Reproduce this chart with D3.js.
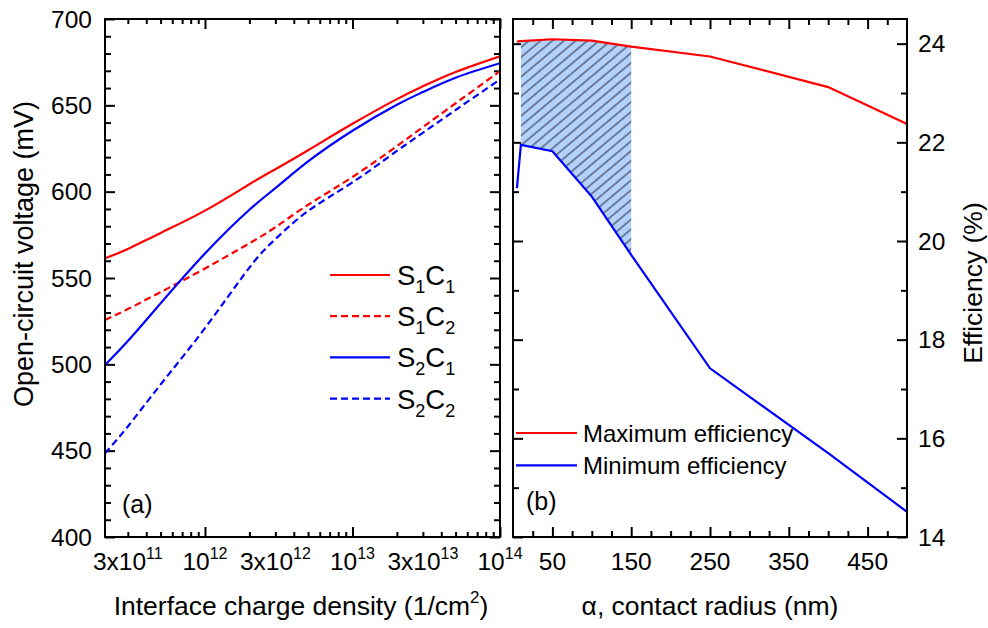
<!DOCTYPE html>
<html>
<head>
<meta charset="utf-8">
<script src="https://cdn.jsdelivr.net/npm/d3@7"></script>
<style>
  body { margin: 0; background: #fff; }
  svg text { font-family: "Liberation Sans", Arial, sans-serif; fill: #000; }
</style>
</head>
<body>
<div id="container"></div>
<script>
// panel (a): Voc vs interface charge density
const densities = [2.1e11, 3e11, 5e11, 1e12, 2e12, 3e12, 5e12, 1e13, 2e13, 3e13, 5e13, 1e14];
const vocS1C1 = [561.4, 566.8, 576.1, 589.0, 604.3, 613.0, 624.0, 639.3, 653.6, 661.0, 669.3, 678.4];
const vocS1C2 = [525.7, 532.0, 541.8, 555.5, 570.1, 579.4, 592.4, 608.5, 626.4, 637.4, 651.2, 669.8];
const vocS2C1 = [499.6, 513.5, 535.3, 564.2, 589.5, 602.0, 617.5, 635.3, 650.3, 657.7, 666.0, 674.4];
const vocS2C2 = [448.5, 464.0, 488.3, 521.0, 556.0, 572.5, 588.8, 605.4, 623.6, 634.1, 647.3, 665.0];
const densityLabels = [3e11, 1e12, 3e12, 1e13, 3e13, 1e14];
const vocLabels = [400, 450, 500, 550, 600, 650, 700];

// panel (b): efficiency vs contact radius
const radii = [5, 10, 50, 100, 150, 250, 400, 500];
const effMax = [24.04, 24.05, 24.09, 24.06, 23.94, 23.74, 23.12, 22.37];
const effMin = [21.07, 21.95, 21.82, 20.90, 19.72, 17.42, 15.70, 14.51];
const shadeRange = [10, 150];
const radiusLabels = [50, 150, 250, 350, 450];
const effLabels = [14, 16, 18, 20, 22, 24];

const w = 988;
const h = 628;
const plotTop = 19;
const plotBottom = 537;

const svg = d3.select('#container')
    .append('svg')
    .attr('width', w)
    .attr('height', h);

const xA = d3.scaleLog().domain([2.1e11, 1e14]).range([105, 500]);
const yA = d3.scaleLinear().domain([400, 700]).range([plotBottom, plotTop]);
const xB = d3.scaleLinear().domain([0, 500]).range([513, 907]);
const yB = d3.scaleLinear().domain([14, 24.5]).range([plotBottom, plotTop]);

// inward ticks on all four sides
const tickAxis = (axisFn, scale, values, len, transform) => {
    const g = svg.append('g')
        .attr('transform', transform)
        .call(axisFn(scale).tickValues(values).tickSize(-len).tickFormat(''));
    g.select('.domain').remove();
    g.selectAll('line').attr('stroke', '#000').attr('stroke-width', 2);
};

// ---- panel (a) ticks
const decades = [1e12, 1e13, 1e14];
const logMinor = [];
for (let e = 11; e < 14; e++) {
    for (let k = 2; k <= 9; k++) {
        const v = k * Math.pow(10, e);
        if (v >= xA.domain()[0]) logMinor.push(v);
    }
}
tickAxis(d3.axisBottom, xA, logMinor, 5, `translate(0,${plotBottom})`);
tickAxis(d3.axisBottom, xA, decades, 10, `translate(0,${plotBottom})`);
tickAxis(d3.axisTop, xA, logMinor, 5, `translate(0,${plotTop})`);
tickAxis(d3.axisTop, xA, decades, 10, `translate(0,${plotTop})`);

const vocMinor = d3.range(400, 701, 10).filter(v => v % 50 !== 0);
tickAxis(d3.axisLeft, yA, vocMinor, 6, 'translate(105,0)');
tickAxis(d3.axisLeft, yA, vocLabels, 10, 'translate(105,0)');
tickAxis(d3.axisRight, yA, vocMinor, 6, 'translate(500,0)');
tickAxis(d3.axisRight, yA, vocLabels, 10, 'translate(500,0)');

// ---- panel (b) ticks
const radiusMinor = d3.range(25, 500, 25).filter(v => !radiusLabels.includes(v));
tickAxis(d3.axisBottom, xB, radiusMinor, 6, `translate(0,${plotBottom})`);
tickAxis(d3.axisBottom, xB, radiusLabels, 10, `translate(0,${plotBottom})`);
tickAxis(d3.axisTop, xB, radiusMinor, 6, `translate(0,${plotTop})`);
tickAxis(d3.axisTop, xB, radiusLabels, 10, `translate(0,${plotTop})`);

const effMinor = [15, 17, 19, 21, 23];
tickAxis(d3.axisLeft, yB, effMinor, 6, 'translate(513,0)');
tickAxis(d3.axisLeft, yB, effLabels, 10, 'translate(513,0)');
tickAxis(d3.axisRight, yB, effMinor, 6, 'translate(907,0)');
tickAxis(d3.axisRight, yB, effLabels, 10, 'translate(907,0)');

// ---- clip paths
const defs = svg.append('defs');
defs.append('clipPath').attr('id', 'clipA')
    .append('rect')
    .attr('x', xA.range()[0]).attr('y', plotTop)
    .attr('width', xA.range()[1] - xA.range()[0]).attr('height', plotBottom - plotTop);
defs.append('clipPath').attr('id', 'clipB')
    .append('rect')
    .attr('x', xB.range()[0]).attr('y', plotTop)
    .attr('width', xB.range()[1] - xB.range()[0]).attr('height', plotBottom - plotTop);

const hatch = defs.append('pattern')
    .attr('id', 'hatch')
    .attr('patternUnits', 'userSpaceOnUse')
    .attr('width', 8)
    .attr('height', 7.5)
    .attr('patternTransform', 'rotate(-40)');
hatch.append('rect').attr('width', 8).attr('height', 7.5).attr('fill', '#b2d1fb');
hatch.append('line')
    .attr('x1', 0).attr('x2', 8).attr('y1', 3.75).attr('y2', 3.75)
    .attr('stroke', '#111122').attr('stroke-width', 0.9);

// ---- panel (a) curves
const seriesA = [
    { values: vocS1C1, color: '#ff0000', dash: null, s: '1', c: '1' },
    { values: vocS1C2, color: '#ff0000', dash: '7,4', s: '1', c: '2' },
    { values: vocS2C1, color: '#0000ff', dash: null, s: '2', c: '1' },
    { values: vocS2C2, color: '#0000ff', dash: '7,4', s: '2', c: '2' }
];

const lineA = d3.line()
    .x((d, i) => xA(densities[i]))
    .y(d => yA(d))
    .curve(d3.curveNatural);

svg.append('g')
    .attr('clip-path', 'url(#clipA)')
    .selectAll('path')
    .data(seriesA)
    .join('path')
    .attr('d', d => lineA(d.values))
    .attr('fill', 'none')
    .attr('stroke', d => d.color)
    .attr('stroke-width', 2.2)
    .attr('stroke-dasharray', d => d.dash);

// ---- panel (b) shading and curves
const pointsB = radii.map((r, i) => ({ r: r, max: effMax[i], min: effMin[i] }));

const areaB = d3.area()
    .x(d => xB(d.r))
    .y0(d => yB(d.min))
    .y1(d => yB(d.max));

svg.append('path')
    .datum(pointsB.filter(d => d.r >= shadeRange[0] && d.r <= shadeRange[1]))
    .attr('d', areaB)
    .attr('fill', 'url(#hatch)');

const lineB = key => d3.line()
    .x(d => xB(d.r))
    .y(d => yB(d[key]));

const seriesB = [
    { key: 'max', color: '#ff0000', label: 'Maximum efficiency' },
    { key: 'min', color: '#0000ff', label: 'Minimum efficiency' }
];

svg.append('g')
    .attr('clip-path', 'url(#clipB)')
    .selectAll('path')
    .data(seriesB)
    .join('path')
    .attr('d', d => lineB(d.key)(pointsB))
    .attr('fill', 'none')
    .attr('stroke', d => d.color)
    .attr('stroke-width', 2.2);

// ---- frames
[xA, xB].forEach(sx => {
    svg.append('rect')
        .attr('x', sx.range()[0])
        .attr('y', plotTop)
        .attr('width', sx.range()[1] - sx.range()[0])
        .attr('height', plotBottom - plotTop)
        .attr('fill', 'none')
        .attr('stroke', '#000')
        .attr('stroke-width', 2);
});

// ---- tick labels
const tickFont = 24.5;

const xLabA = svg.append('g')
    .selectAll('text')
    .data(densityLabels)
    .join('text')
    .attr('x', d => xA(d))
    .attr('y', 570)
    .attr('text-anchor', 'middle')
    .attr('font-size', tickFont);
xLabA.each(function (d) {
    const e = Math.floor(Math.log10(d) + 1e-9);
    const m = Math.round(d / Math.pow(10, e));
    const t = d3.select(this);
    t.append('tspan').text(m === 1 ? '10' : `${m}x10`);
    t.append('tspan').attr('dy', -11).attr('font-size', 16).text(e);
});

svg.append('g')
    .selectAll('text')
    .data(vocLabels)
    .join('text')
    .attr('x', 92)
    .attr('y', d => yA(d))
    .attr('dy', '0.36em')
    .attr('text-anchor', 'end')
    .attr('font-size', tickFont)
    .text(d => d);

svg.append('g')
    .selectAll('text')
    .data(radiusLabels)
    .join('text')
    .attr('x', d => xB(d))
    .attr('y', 570)
    .attr('text-anchor', 'middle')
    .attr('font-size', tickFont)
    .text(d => d);

svg.append('g')
    .selectAll('text')
    .data(effLabels)
    .join('text')
    .attr('x', 918)
    .attr('y', d => yB(d))
    .attr('dy', '0.36em')
    .attr('font-size', tickFont)
    .text(d => d);

// ---- axis titles
const titleFont = 26.5;

const xTitleA = svg.append('text')
    .attr('x', 301)
    .attr('y', 615)
    .attr('text-anchor', 'middle')
    .attr('font-size', titleFont);
xTitleA.append('tspan').text('Interface charge density (1/cm');
xTitleA.append('tspan').attr('dy', -12).attr('font-size', 17).text('2');
xTitleA.append('tspan').attr('dy', 12).text(')');

svg.append('text')
    .attr('x', 710)
    .attr('y', 615)
    .attr('text-anchor', 'middle')
    .attr('font-size', titleFont)
    .text('α, contact radius (nm)');

svg.append('text')
    .attr('transform', 'translate(33,254) rotate(-90)')
    .attr('text-anchor', 'middle')
    .attr('font-size', 27)
    .text('Open-circuit voltage (mV)');

svg.append('text')
    .attr('transform', 'translate(982,283) rotate(-90)')
    .attr('text-anchor', 'middle')
    .attr('font-size', titleFont)
    .text('Efficiency (%)');

// ---- panel labels
svg.append('text').attr('x', 122).attr('y', 513).attr('font-size', 25).text('(a)');
svg.append('text').attr('x', 526).attr('y', 510).attr('font-size', 25).text('(b)');

// ---- legend (a)
const legendA = svg.append('g')
    .selectAll('g')
    .data(seriesA)
    .join('g')
    .attr('transform', (d, i) => `translate(330,${275 + i * 41.2})`);

legendA.append('line')
    .attr('x1', 0).attr('x2', 60)
    .attr('stroke', d => d.color)
    .attr('stroke-width', 2.2)
    .attr('stroke-dasharray', d => d.dash);

const legendTextA = legendA.append('text')
    .attr('x', 67)
    .attr('y', 10)
    .attr('font-size', 27.5);
legendTextA.append('tspan').text('S');
legendTextA.append('tspan').attr('dy', 8).attr('font-size', 18).text(d => d.s);
legendTextA.append('tspan').attr('dy', -8).text('C');
legendTextA.append('tspan').attr('dy', 8).attr('font-size', 18).text(d => d.c);

// ---- legend (b)
const legendB = svg.append('g')
    .selectAll('g')
    .data(seriesB)
    .join('g')
    .attr('transform', (d, i) => `translate(516,${433 + i * 32.3})`);

legendB.append('line')
    .attr('x1', 0).attr('x2', 61)
    .attr('stroke', d => d.color)
    .attr('stroke-width', 2.2);

legendB.append('text')
    .attr('x', 67)
    .attr('dy', '0.36em')
    .attr('font-size', 24)
    .text(d => d.label);
</script>
</body>
</html>
